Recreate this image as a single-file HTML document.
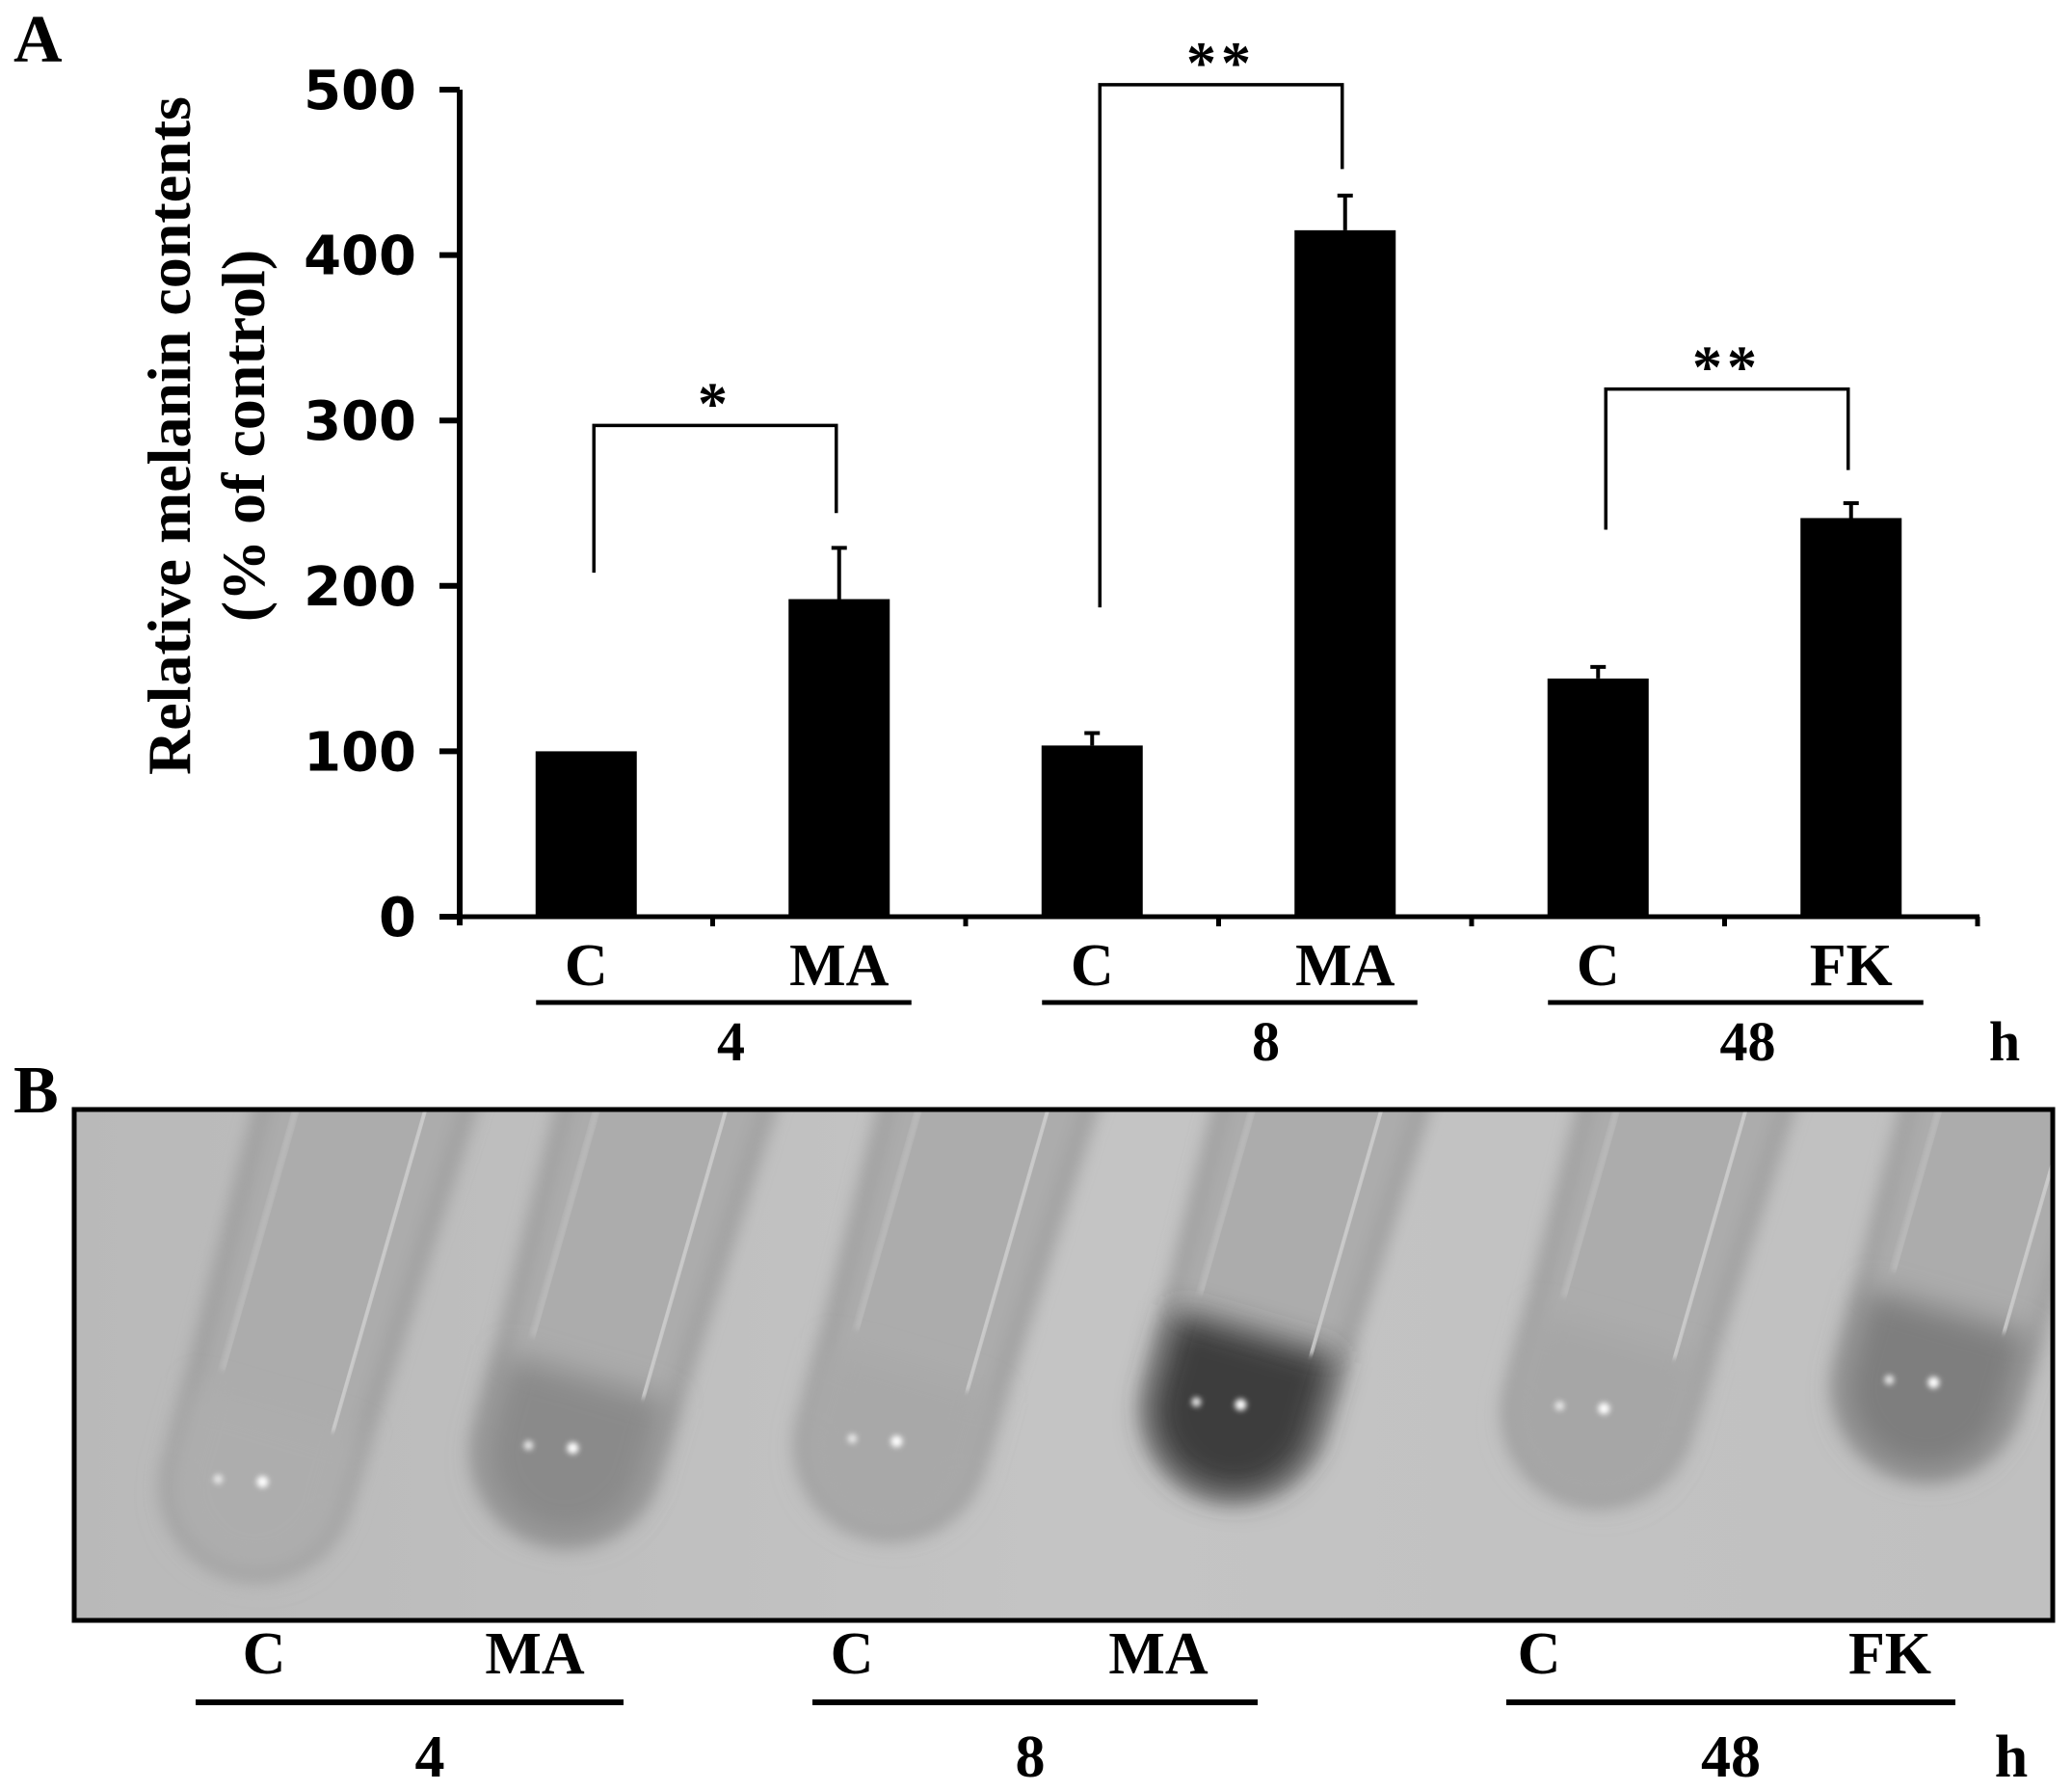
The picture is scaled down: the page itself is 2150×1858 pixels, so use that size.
<!DOCTYPE html>
<html><head><meta charset="utf-8">
<style>
html,body{margin:0;padding:0;background:#fff;}
svg{display:block;}
.serif{font-family:"Liberation Serif",serif;font-weight:bold;}
.sans{font-family:"DejaVu Sans","Liberation Sans",sans-serif;font-weight:bold;}
</style></head>
<body>
<svg id="fig" width="2150" height="1858" viewBox="0 0 2150 1858" xmlns="http://www.w3.org/2000/svg">
<defs>
  <filter id="blur" x="-20%" y="-20%" width="140%" height="140%"><feGaussianBlur stdDeviation="9"/></filter>
  <filter id="blurL" x="-30%" y="-30%" width="160%" height="160%"><feGaussianBlur stdDeviation="16"/></filter>
  <filter id="blur2" x="-50%" y="-50%" width="200%" height="200%"><feGaussianBlur stdDeviation="3"/></filter>
  <clipPath id="boxclip"><rect x="77" y="1151" width="2053" height="530"/></clipPath>
  <linearGradient id="bgGrad" x1="0" y1="0" x2="1" y2="0">
    <stop offset="0" stop-color="#b9b9b9"/><stop offset="0.5" stop-color="#c4c4c4"/><stop offset="1" stop-color="#c0c0c0"/>
  </linearGradient>
</defs>
<text class="serif" x="14" y="64" font-size="70">A</text>
<g id="chart"></g>
<text class="serif" x="14" y="1154" font-size="70">B</text>
<g id="photo"></g>
<g id="blabels"></g>
</svg>
<script>
const categories = ["C","MA","C","MA","C","FK"];
const values = [100,192,103.5,415,144,241];
const errors = [0,31,7.5,21,7,9];
const yTicks = [0,100,200,300,400,500];
const groupLabels = ["4","8","48"];
const brackets = [
  {from:0,to:1,leftVal:208,rightVal:244,topVal:297,stars:"*"},
  {from:2,to:3,leftVal:187,rightVal:452,topVal:503,stars:"**"},
  {from:4,to:5,leftVal:234,rightVal:270,topVal:319,stars:"**"}
];
const NS="http://www.w3.org/2000/svg";
const X0=477, X1=2052, Y0=951, Y500=93;
const slot=(X1-X0)/categories.length;
const y = v => Y0 - (v/500)*(Y0-Y500);
const xc = i => X0 + slot*(i+0.5);
const groupLabelShift=[19,49,24];
function mk(tag, attrs, parent, txt){
  const e=document.createElementNS(NS,tag);
  for(const k in attrs) e.setAttribute(k,attrs[k]);
  if(txt!==undefined) e.textContent=txt;
  parent.appendChild(e); return e;
}
const chart=document.getElementById('chart');
let t1=mk('text',{class:'serif','font-size':64,'text-anchor':'middle',transform:'translate(197,452) rotate(-90)'},chart,'Relative melanin contents');


let t2=mk('text',{class:'serif','font-size':64,'text-anchor':'middle',transform:'translate(274,452) rotate(-90)'},chart,'(% of control)');


let ya=mk('line',{x1:X0,y1:Y500,x2:X0,y2:Y0+9,stroke:'#000','stroke-width':6},chart);


let xa=mk('line',{x1:X0-21,y1:Y0,x2:X1+2,y2:Y0,stroke:'#000','stroke-width':5},chart);


yTicks.forEach(v=>{
  let tk=mk('line',{x1:X0-21,y1:y(v),x2:X0,y2:y(v),stroke:'#000','stroke-width':6},chart);
  
  
  let tl=mk('text',{class:'sans','font-size':56,'text-anchor':'end',x:432,y:y(v)+20},chart,String(v));
  
  
});
for(let i=1;i<=categories.length;i++){
  let tk=mk('line',{x1:X0+slot*i,y1:Y0,x2:X0+slot*i,y2:Y0+10,stroke:'#000','stroke-width':5},chart);
  
  
}
const bw=105;
values.forEach((v,i)=>{
  let b=mk('rect',{x:xc(i)-bw/2,y:y(v),width:bw,height:Y0-y(v),fill:'#000'},chart);
  
  
  if(errors[i]>0){
    let e=mk('path',{d:`M${xc(i)} ${y(v)} V${y(v+errors[i])} M${xc(i)-8} ${y(v+errors[i])} H${xc(i)+8}`,stroke:'#000','stroke-width':4,fill:'none'},chart);
    
    
  }
  let l=mk('text',{class:'serif','font-size':62,'text-anchor':'middle',x:xc(i),y:1022},chart,categories[i]);
  
  
});
groupLabels.forEach((g,k)=>{
  const a=xc(2*k)-52, b=xc(2*k+1)+75;
  let u=mk('line',{x1:a,y1:1040,x2:b,y2:1040,stroke:'#000','stroke-width':5},chart);
  
  
  let gl=mk('text',{class:'serif','font-size':58,'text-anchor':'middle',x:(xc(2*k)+xc(2*k+1))/2+groupLabelShift[k],y:1100},chart,g);
  
  
});
let h=mk('text',{class:'serif','font-size':58,'text-anchor':'middle',x:2080,y:1100},chart,'h');


brackets.forEach(br=>{
  const xl=xc(br.from)+8, xr=xc(br.to)-3;
  let p=mk('path',{d:`M${xl} ${y(br.leftVal)} V${y(br.topVal)} H${xr} V${y(br.rightVal)}`,stroke:'#000','stroke-width':3.5,fill:'none'},chart);
  
  
  let s=mk('text',{class:'serif','font-size':62,'text-anchor':'middle','letter-spacing':5,x:(xl+xr)/2,y:y(br.topVal)-2},chart,br.stars);
  
  
});

const photo=document.getElementById('photo');
const tubeX=[240,562,898,1255,1632,1974];
const tubeYb=[1632,1597,1590,1552,1556,1529];
const liquid=['#adadad','#8a8a8a','#a8a8a8','#3c3c3c','#a6a6a6','#7e7e7e'];
let bg=mk('rect',{x:77,y:1151,width:2053,height:530,fill:'url(#bgGrad)'},photo);


const g=mk('g',{'clip-path':'url(#boxclip)'},photo);
tubeX.forEach((tx,i)=>{
  const by=tubeYb[i];
  const tg=mk('g',{transform:`rotate(16 ${tx} ${by})`},g);
  
  
  mk('path',{d:`M${tx-110} ${by-700} L${tx-92} ${by-95} A92 92 0 0 0 ${tx+92} ${by-95} L${tx+110} ${by-700} Z`,fill:'#acacac',stroke:'#929292','stroke-width':10,filter:'url(#blur)'},tg);
  mk('path',{d:`M${tx-88} ${by-175} V${by-92} A88 88 0 0 0 ${tx+88} ${by-92} V${by-175} Z`,fill:liquid[i],filter:'url(#blurL)'},tg);
  mk('line',{x1:tx+62,y1:by-700,x2:tx+60,y2:by-170,stroke:'#cfcfcf','stroke-width':8,filter:'url(#blur2)'},tg);
  mk('line',{x1:tx-70,y1:by-700,x2:tx-66,y2:by-200,stroke:'#bdbdbd','stroke-width':6,filter:'url(#blur2)'},tg);
  mk('circle',{cx:tx+5,cy:by-100,r:6,fill:'#fff',filter:'url(#blur2)'},tg);
  mk('circle',{cx:tx-40,cy:by-90,r:5,fill:'#e8e8e8',filter:'url(#blur2)'},tg);
});
let fr=mk('rect',{x:77,y:1151,width:2053,height:530,fill:'none',stroke:'#000','stroke-width':5},photo);



const bl=document.getElementById('blabels');
const bLabelX=[274,555,884,1202,1597,1961];
bLabelX.forEach((lx,i)=>{
  let l=mk('text',{class:'serif','font-size':62,'text-anchor':'middle',x:lx,y:1736},bl,categories[i]);
  
  
});
const bUnder=[[203,647],[843,1305],[1563,2029]];
const bNumX=[446,1069,1796];
bUnder.forEach((u,k)=>{
  let ln=mk('line',{x1:u[0],y1:1766,x2:u[1],y2:1766,stroke:'#000','stroke-width':6},bl);
  
  
  let n=mk('text',{class:'serif','font-size':62,'text-anchor':'middle',x:bNumX[k],y:1843},bl,groupLabels[k]);
  
  
});
let hb=mk('text',{class:'serif','font-size':62,'text-anchor':'middle',x:2087,y:1843},bl,'h');


</script>
</body></html>
